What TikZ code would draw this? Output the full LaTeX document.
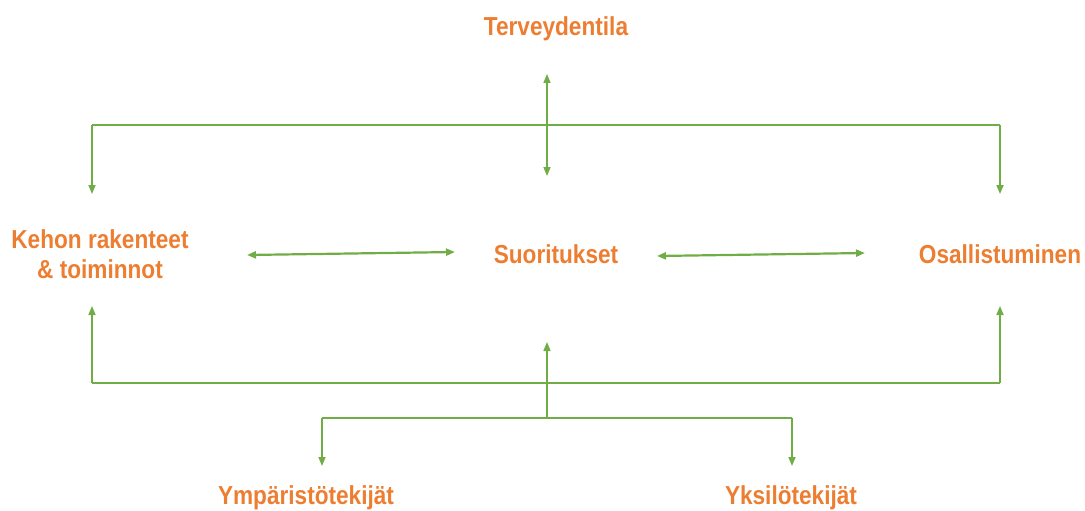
\documentclass[tikz,border=0pt]{standalone}
\usepackage{fontspec}
\setmainfont{Liberation Sans}[FakeStretch=0.87]
\usepackage{xcolor}
\usetikzlibrary{positioning,calc,arrows.meta}
\definecolor{icforange}{HTML}{ED7D31}
\definecolor{icfgreen}{HTML}{70AD47}
\tikzset{
	lbl/.style={font=\fontsize{26}{30}\selectfont\bfseries, text=icforange, align=center, inner sep=0pt},
	link/.style={draw=icfgreen, line width=1.6pt, -{Triangle[length=9pt,width=7pt]}},
	both/.style={draw=icfgreen, line width=2.2pt, {Triangle[length=9pt,width=7pt]}-{Triangle[length=9pt,width=7pt]}},
	bar/.style={draw=icfgreen, line width=2.2pt}
}
\begin{document}
\begin{tikzpicture}[x=1pt,y=-1pt]
	\def\L{92}
	\def\M{547}
	\def\R{1000}
	\useasboundingbox (0,0) rectangle (1085,511);
	
	% labels
	\node[lbl] (terv) at (556,29) {Terveydentila};
	\node[lbl] (kehon) at (100,254) {Kehon rakenteet\\\& toiminnot};
	\node[lbl] (suor) at (556,254) {Suoritukset};
	\node[lbl] (osal) at (1000,254) {Osallistuminen};
	\node[lbl] (ymp) at (306,498) {Ympäristötekijät};
	\node[lbl] (yks) at (791,498) {Yksilötekijät};
	
	% top bracket
	\coordinate (tl) at (\L,125);
	\coordinate (tr) at (\R,125);
	\coordinate (tlend) at (\L,194);
	\coordinate (trend) at (\R,194);
	\draw[bar] (tl) -- (tr);
	\draw[link] (tl) -- (tlend);
	\draw[link] (tr) -- (trend);
	\coordinate (tvtop) at (\M,74);
	\coordinate (tvbot) at (\M,176);
	\draw[both, line width=1.6pt] (tvtop) -- (tvbot);
	
	% middle row
	\coordinate (h1a) at (247,255);
	\coordinate (h1b) at (455,252);
	\coordinate (h2a) at (657,256);
	\coordinate (h2b) at (865,253);
	\draw[both] (h1a) -- (h1b);
	\draw[both] (h2a) -- (h2b);
	
	% bottom bracket
	\coordinate (bl) at (\L,383);
	\coordinate (br) at (\R,383);
	\coordinate (blend) at (\L,306);
	\coordinate (brend) at (\R,306);
	\draw[bar] (bl) -- (br);
	\draw[link] (bl) -- (blend);
	\draw[link] (br) -- (brend);
	\coordinate (mvbot) at (\M,418);
	\coordinate (mvtop) at (\M,342);
	\draw[link] (mvbot) -- (mvtop);
	
	% factors
	\coordinate (fl) at (322,418);
	\coordinate (fr) at (792,418);
	\coordinate (flend) at (322,466);
	\coordinate (frend) at (792,466);
	\draw[bar] (fl) -- (fr);
	\draw[link] (fl) -- (flend);
	\draw[link] (fr) -- (frend);
\end{tikzpicture}
\end{document}
